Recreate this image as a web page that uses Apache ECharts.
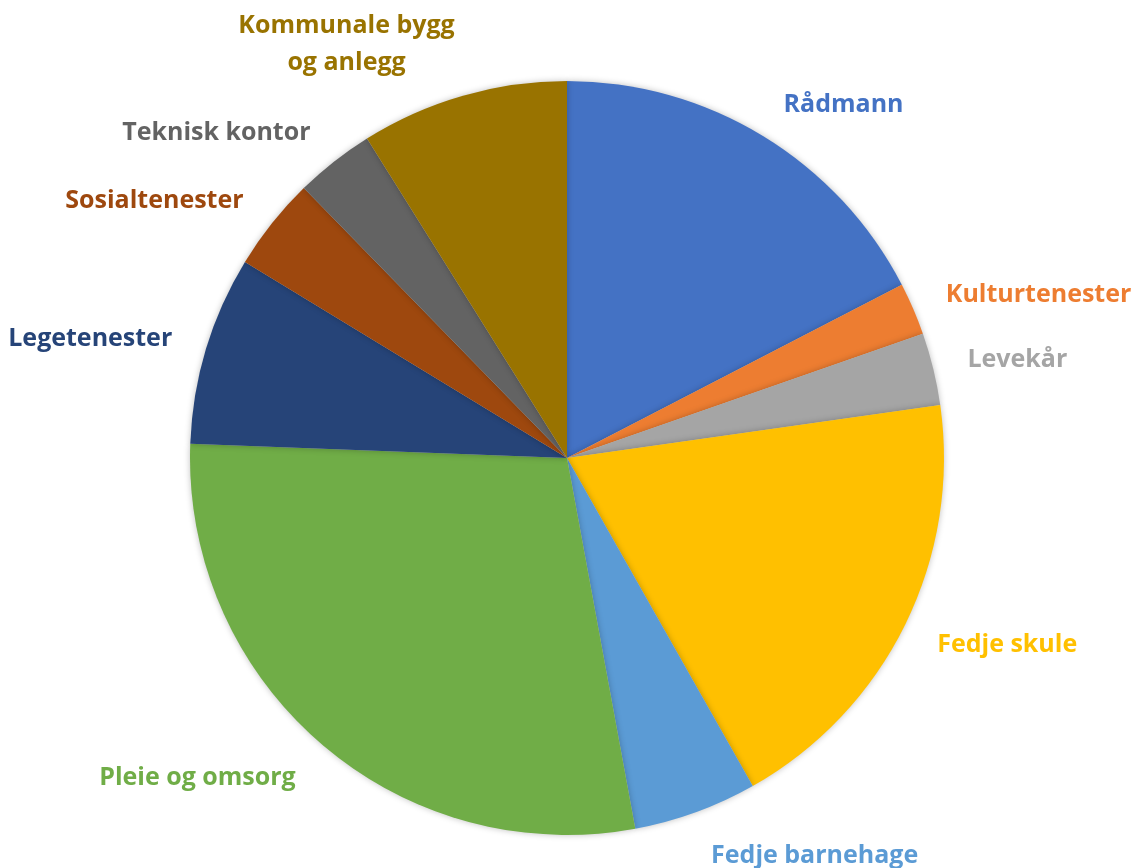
<!DOCTYPE html>
<html>
<head>
<meta charset="utf-8">
<script src="https://cdn.jsdelivr.net/npm/echarts@6/dist/echarts.min.js"></script>
<style>
  html, body { margin: 0; padding: 0; background: #fff; }
  #chart { width: 1136px; height: 868px; }
</style>
</head>
<body>
<div id="chart"></div>
<script>
const categories = [
  "Rådmann", "Kulturtenester", "Levekår", "Fedje skule", "Fedje barnehage",
  "Pleie og omsorg", "Legetenester", "Sosialtenester", "Teknisk kontor",
  "Kommunale bygg og anlegg"
];
const values = [17.4, 2.25, 3.1, 19.05, 5.3, 28.5, 8.1, 4.0, 3.4, 8.9];
const colors = [
  "#4472C4", "#ED7D31", "#A5A5A5", "#FFC000", "#5B9BD5",
  "#70AD47", "#264478", "#9E480E", "#636363", "#997300"
];

const pieCenter = [567, 458];
const chart = echarts.init(document.getElementById("chart"), null, { renderer: "canvas" });

chart.setOption({
  animation: false,
  series: [
    {
      type: "pie",
      center: pieCenter,
      radius: 377,
      startAngle: 90,
      clockwise: true,
      avoidLabelOverlap: false,
      itemStyle: {
        shadowBlur: 6,
        shadowColor: "rgba(0,0,0,0.25)"
      },
      label: {
        show: true,
        position: "outside",
        fontFamily: "Open Sans",
        fontWeight: "bold",
        fontSize: 25,
        lineHeight: 37,
        formatter: (p) => p.name.replace("bygg og", "bygg\nog")
      },
      labelLine: { show: false, length: 30, length2: 0 },
      // Excel-like placement: push labels a little further out vertically,
      // the two-line label is centred and lifted
      labelLayout: (p) => {
        const r = p.labelRect;
        const cx = r.x + r.width / 2, cy = r.y + r.height / 2;
        const vx = cx - pieCenter[0], vy = cy - pieCenter[1];
        const d = Math.sqrt(vx * vx + vy * vy);
        if (p.dataIndex === 9) {
          return { x: cx + 5, align: "center", dy: -(r.height - 37) / 2 - 4 };
        }
        const k = vy > 0 ? 1 : 0.4;
        return { dy: k * (r.height / 2) * (vy / d) };
      },
      data: categories.map((name, i) => ({
        name: name,
        value: values[i],
        itemStyle: { color: colors[i] },
        label: { color: colors[i] }
      }))
    }
  ]
});
</script>
</body>
</html>
